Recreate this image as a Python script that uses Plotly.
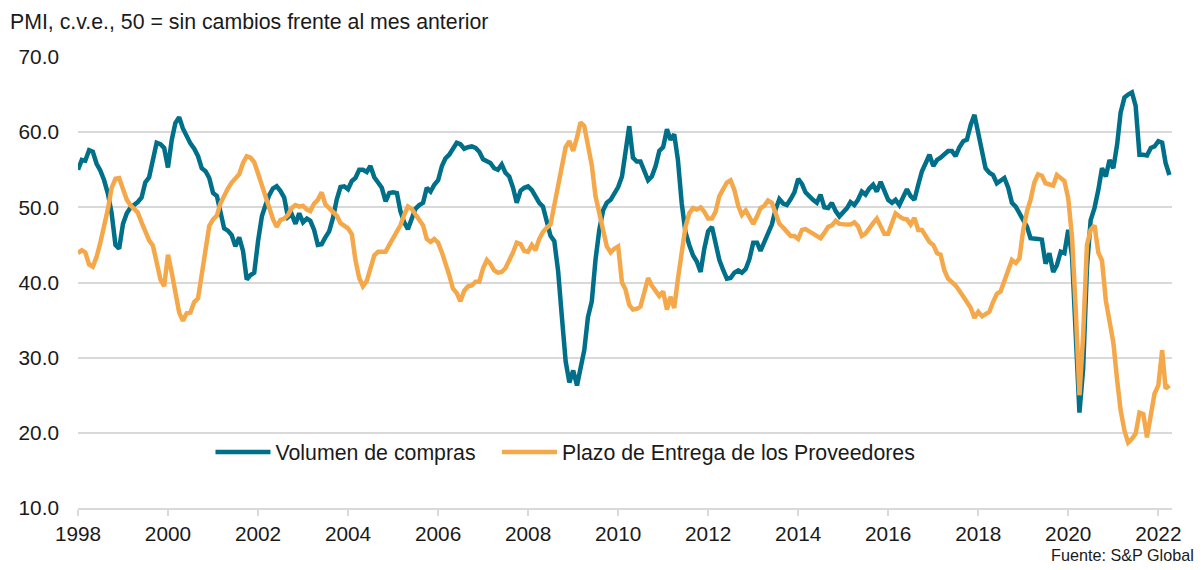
import pandas as pd
import plotly.graph_objects as go

# PMI monthly series, Jan 1998 .. Apr 2022
start_month = '1998-01-01'

volumen_compras = [
    55.0, 56.3, 56.2, 57.6, 57.4, 55.8, 54.9, 53.6, 51.8, 49.2, 45.0, 44.5,
    47.8, 49.2, 49.9, 50.3, 50.7, 51.3, 53.3, 54.0, 56.5, 58.6, 58.4, 57.9,
    55.3, 59.0, 61.2, 62.0, 60.5, 59.3, 58.5, 57.8, 56.8, 55.2, 54.8, 53.9,
    51.9, 51.5, 49.5, 47.2, 46.9, 46.3, 44.8, 46.0, 44.2, 40.4, 41.0, 41.3,
    45.5, 48.8, 50.2, 51.6, 52.5, 52.8, 52.2, 51.3, 48.7, 49.1, 47.8, 49.2,
    48.0, 48.5, 48.2, 47.0, 45.0, 45.1, 46.0, 46.8, 48.6, 51.0, 52.7, 52.8,
    52.4, 53.5, 53.9, 55.0, 55.0, 54.7, 55.5, 54.0, 53.3, 52.6, 50.8, 51.9,
    52.0, 51.9, 49.5, 48.0, 47.1, 48.7, 49.8, 50.3, 50.6, 52.6, 52.1, 53.0,
    53.6, 55.5, 56.5, 57.0, 57.8, 58.6, 58.4, 57.8, 58.0, 58.1, 57.9, 57.4,
    56.4, 56.1, 55.9, 55.2, 55.0, 55.7, 54.6, 54.1, 52.6, 50.6, 52.2, 52.6,
    52.8, 52.3, 51.5, 50.6, 50.1, 48.2, 46.2, 45.5, 41.5, 35.5, 29.5, 26.7,
    28.3, 26.3, 28.3, 31.0, 35.4, 37.5, 43.0, 47.0, 49.6, 50.6, 51.0, 52.0,
    52.7, 54.1, 57.5, 60.8, 56.6, 56.1, 56.1, 54.8, 53.6, 54.1, 55.5, 57.5,
    58.0, 60.4, 59.0, 59.7, 56.3, 50.5, 46.7, 45.0, 43.6, 42.8, 41.4, 44.5,
    46.8, 47.4, 45.3, 43.0, 41.7, 40.5, 40.6, 41.3, 41.6, 41.3, 41.8, 43.1,
    45.3, 45.3, 44.2, 45.5, 46.7, 47.7, 49.7, 51.1, 50.5, 50.3, 51.1, 52.0,
    53.8, 53.1, 52.0, 51.4, 51.0, 50.6, 51.7, 50.0, 49.9, 50.6, 49.5, 48.8,
    49.3, 49.9, 50.7, 50.3, 51.0, 52.1, 51.7, 52.5, 53.0, 52.1, 53.4, 52.1,
    51.0, 50.6, 51.0, 50.3, 51.5, 52.4, 51.5, 51.0, 53.0, 54.8, 55.9, 57.0,
    55.5, 56.3, 56.6, 57.0, 57.5, 57.5, 56.8, 58.0, 58.8, 59.0, 61.0, 62.3,
    59.8, 57.5, 55.2, 54.6, 54.3, 53.2, 53.5, 53.9, 52.6, 50.6, 50.1, 49.3,
    48.4, 47.4, 45.9, 45.9, 45.8, 45.7, 42.5, 43.9, 41.4, 42.3, 44.1, 43.9,
    47.0, 43.5, 34.0, 22.7, 28.5, 42.0, 48.3, 49.9, 52.3, 55.2, 54.1, 56.3,
    55.2, 58.4, 62.6, 64.6, 65.0, 65.3, 63.5, 57.0, 57.0, 56.9, 57.9, 58.1,
    58.8, 58.6, 55.9, 54.3,
]

plazo_entrega = [
    43.9, 44.3, 44.0, 42.4, 42.1, 43.4, 45.3, 47.5, 49.8, 52.6, 53.8, 53.9,
    52.4, 51.0, 50.3, 49.8, 49.3, 48.0, 46.6, 45.6, 44.9, 42.5, 40.4, 39.5,
    43.7, 41.3, 38.4, 36.0, 34.9, 35.9, 36.0, 37.4, 37.9, 41.0, 44.8, 47.5,
    48.4, 48.9, 50.5, 51.7, 52.5, 53.3, 53.8, 54.4, 55.9, 56.8, 56.6, 56.0,
    54.5, 53.0, 51.3, 49.8, 48.5, 47.4, 48.3, 48.5, 49.0, 49.9, 50.3, 50.1,
    50.2, 49.7, 49.5, 50.5, 51.0, 52.0, 50.4, 49.9, 49.3, 48.9, 47.9, 47.5,
    47.2, 46.4, 43.0, 40.6, 39.5, 40.2, 41.9, 43.6, 44.1, 44.1, 44.1, 45.0,
    45.8, 46.8, 47.6, 49.0, 50.1, 49.8, 49.1, 48.5, 47.6, 45.8, 45.4, 45.8,
    45.3, 44.0, 42.7, 41.0, 39.2, 38.6, 37.5, 38.9, 39.5, 39.6, 40.1, 40.1,
    41.9, 43.0, 42.5, 41.6, 41.3, 41.4, 41.9, 42.8, 44.0, 45.3, 45.1, 44.2,
    44.1, 45.0, 44.3, 45.8, 46.7, 47.3, 47.7, 50.3, 53.0, 55.6, 58.0, 58.8,
    57.5, 59.3, 61.3, 60.8, 58.0, 55.6, 51.5, 49.2, 47.0, 44.8, 44.0, 44.5,
    44.8, 40.0, 39.1, 37.0, 36.4, 36.5, 36.8, 38.5, 40.6, 39.6, 38.9, 38.2,
    38.8, 36.4, 38.1, 36.6, 40.5, 44.3, 47.4, 49.2, 49.9, 49.7, 50.0, 49.4,
    48.5, 48.5, 49.4, 51.5, 52.5, 53.3, 53.6, 52.3, 50.2, 49.0, 49.6, 48.6,
    47.8, 48.8, 49.9, 50.2, 50.9, 50.6, 49.4, 47.8, 47.3, 46.8, 46.2, 46.2,
    45.8, 47.0, 47.1, 46.8, 46.5, 46.1, 45.9, 46.6, 47.4, 47.6, 48.2, 47.8,
    47.7, 47.7, 47.7, 48.0, 47.5, 46.2, 46.5, 47.3, 47.9, 48.5, 47.3, 46.5,
    46.5, 47.8, 49.2, 48.8, 48.5, 48.4, 47.7, 48.6, 47.0, 47.0, 46.1, 45.4,
    45.0, 43.9, 43.7, 41.6, 40.5, 40.1, 39.6, 38.9, 38.0, 37.4, 36.6, 35.3,
    36.1, 35.5, 35.8, 36.1, 37.4, 38.5, 38.8, 40.2, 41.6, 43.0, 42.6, 43.2,
    47.0, 49.5, 51.0, 53.3, 54.4, 54.2, 53.2, 53.0, 52.9, 54.3, 53.8, 53.5,
    51.2, 46.0, 36.7, 25.0, 33.0, 45.0, 47.0, 47.6, 44.0, 42.9, 37.6, 35.0,
    32.0, 27.0, 23.0, 20.3, 18.7, 19.2, 19.9, 22.7, 22.5, 19.4, 22.0, 25.2,
    26.3, 31.0, 25.9, 26.3,
]

months = pd.date_range(start_month, periods=len(volumen_compras), freq='MS')

teal = '#006F8A'
orange = '#F4A84A'
font_family = 'Liberation Sans, Arial, sans-serif'

fig = go.Figure()
fig.add_trace(go.Scatter(
    x=months, y=volumen_compras, mode='lines',
    name='Volumen de compras',
    line=dict(color=teal, width=4.5),
    legend='legend',
))
fig.add_trace(go.Scatter(
    x=months, y=plazo_entrega, mode='lines',
    name='Plazo de Entrega de los Proveedores',
    line=dict(color=orange, width=4.5),
    legend='legend2',
))

legend_style = dict(
    orientation='h',
    xanchor='left',
    y=0.124,
    yanchor='middle',
    font=dict(size=21.3),
    itemwidth=55,
    bgcolor='rgba(0,0,0,0)',
)

# the page body has an 8px margin, so the figure is a little smaller
fig.update_layout(
    width=1194,
    height=562,
    margin=dict(l=70, r=30, t=49, b=62),
    paper_bgcolor='white',
    plot_bgcolor='white',
    font=dict(family=font_family, size=20.8, color='#1a1a1a'),
    showlegend=True,
    legend=dict(legend_style, x=0.1211),
    legend2=dict(legend_style, x=0.383),
    xaxis=dict(
        type='date',
        range=['1998-01-01', '2022-04-22'],
        tick0='1998-01-01',
        dtick='M24',
        tickformat='%Y',
        showgrid=False,
        showline=True,
        linecolor='#d9d9d9',
        linewidth=1.5,
        ticks='outside',
        tickcolor='#d9d9d9',
        tickwidth=1.5,
        ticklen=6,
        tickfont=dict(size=20.8),
    ),
    yaxis=dict(
        range=[10, 70],
        dtick=10,
        tickformat='.1f',
        showgrid=True,
        gridcolor='#d9d9d9',
        gridwidth=1.5,
        zeroline=False,
        ticks='',
        ticklabelstandoff=18,
        tickfont=dict(size=20.8),
    ),
    annotations=[
        dict(
            text='PMI, c.v.e., 50 = sin cambios frente al mes anterior',
            xref='paper', yref='paper',
            x=-0.064, y=1.078,
            xanchor='left', yanchor='middle',
            showarrow=False,
            font=dict(size=21.3),
        ),
        dict(
            text='Fuente: S&P Global',
            xref='paper', yref='paper',
            x=1.0215, y=-0.104,
            xanchor='right', yanchor='middle',
            showarrow=False,
            font=dict(size=16.2),
        ),
    ],
)

fig.write_html('out.html')
